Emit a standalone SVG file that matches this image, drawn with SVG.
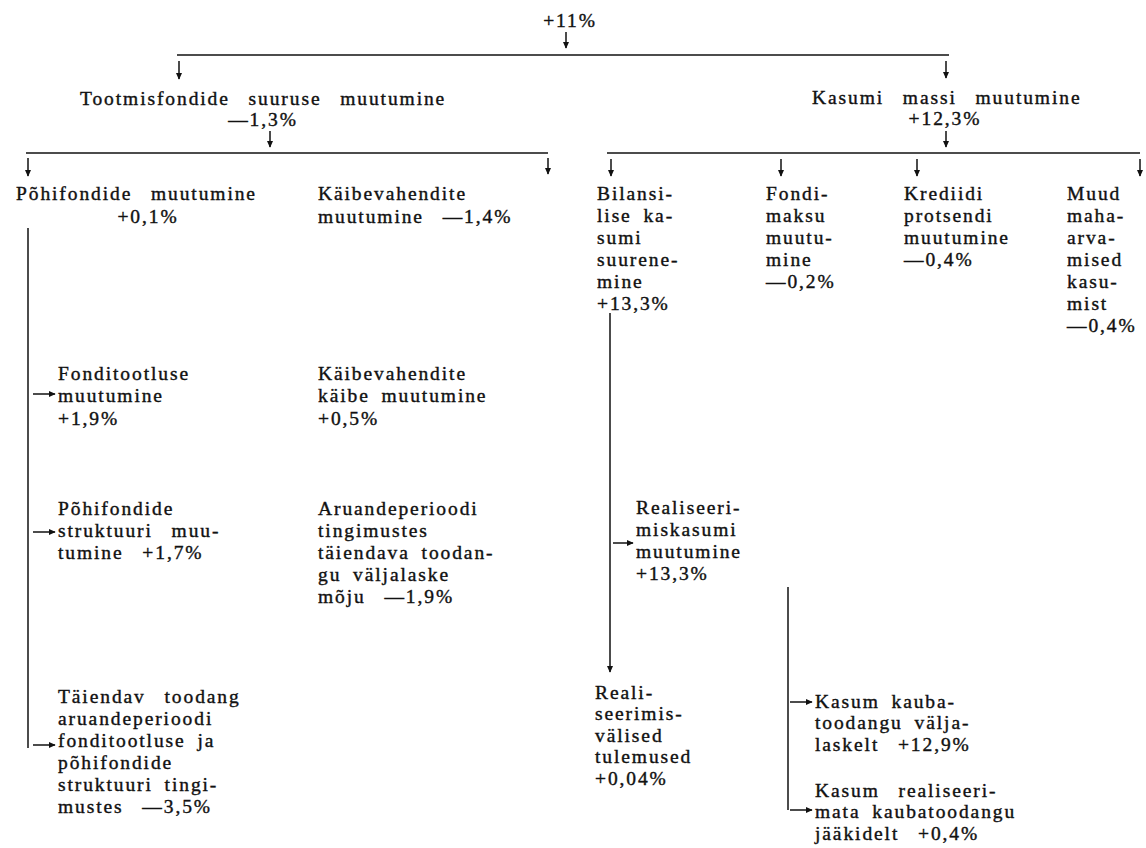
<svg xmlns="http://www.w3.org/2000/svg" width="1146" height="848" viewBox="0 0 1146 848">
<defs>
<marker id="ah" viewBox="0 0 10 10" refX="9" refY="5" markerWidth="7" markerHeight="8" markerUnits="userSpaceOnUse" orient="auto">
<path d="M0,0.5 L10,5 L0,9.5 z" fill="#111"/>
</marker>
<style>
text{font-family:"Liberation Serif","DejaVu Serif",serif;font-size:19.5px;fill:#111;stroke:#111;stroke-width:0.4;letter-spacing:1.9px;word-spacing:5px}
.w{word-spacing:12px}
.m{text-anchor:middle}
.ln{stroke:#111;stroke-width:1.5;fill:none}
.ar{stroke:#111;stroke-width:1.5;fill:none;marker-end:url(#ah)}
</style>
</defs>
<rect width="1146" height="848" fill="#fff"/>
<g id="connectors">
<line class="ar" x1="566" y1="32" x2="566" y2="48"/>
<line class="ln" x1="177" y1="55" x2="949" y2="55"/>
<line class="ar" x1="179" y1="61" x2="179" y2="79"/>
<line class="ar" x1="946" y1="61" x2="946" y2="78"/>
<line class="ar" x1="270" y1="131" x2="270" y2="147"/>
<line class="ln" x1="26" y1="153" x2="548" y2="153"/>
<line class="ar" x1="28" y1="158" x2="28" y2="176"/>
<line class="ar" x1="548" y1="158" x2="548" y2="174"/>
<line class="ln" x1="28" y1="228" x2="28" y2="748"/>
<line class="ar" x1="33" y1="394" x2="55" y2="394"/>
<line class="ar" x1="33" y1="532" x2="55" y2="532"/>
<line class="ar" x1="33" y1="745" x2="55" y2="745"/>
<line class="ar" x1="946" y1="131" x2="946" y2="147"/>
<line class="ln" x1="607" y1="153" x2="1140" y2="153"/>
<line class="ar" x1="611" y1="159" x2="611" y2="176"/>
<line class="ar" x1="781" y1="159" x2="781" y2="176"/>
<line class="ar" x1="917" y1="159" x2="917" y2="176"/>
<line class="ar" x1="1140" y1="159" x2="1140" y2="176"/>
<line class="ar" x1="610" y1="313" x2="610" y2="672"/>
<line class="ar" x1="613" y1="543" x2="633" y2="543"/>
<line class="ln" x1="788" y1="587" x2="788" y2="810"/>
<line class="ar" x1="790" y1="702" x2="812" y2="702"/>
<line class="ar" x1="790" y1="810" x2="812" y2="810"/>
</g>
<g id="n-total"><text class="m" x="570" y="27">+11%</text></g>
<g id="n-tootmis">
<text class="w" x="80" y="105">Tootmisfondide suuruse muutumine</text>
<text class="m" x="263" y="126">—1,3%</text>
</g>
<g id="n-kasum">
<text class="w" x="812" y="104">Kasumi massi muutumine</text>
<text class="m" x="945" y="125">+12,3%</text>
</g>
<g id="n-pohifondide">
<text class="w" x="16" y="200">Põhifondide muutumine</text>
<text class="m" x="148" y="223">+0,1%</text>
</g>
<g id="n-kaibevahendite">
<text x="318" y="200">Käibevahendite</text>
<text class="w" x="318" y="223">muutumine —1,4%</text>
</g>
<g id="n-fonditootlus">
<text x="58" y="380">Fonditootluse</text>
<text x="58" y="402">muutumine</text>
<text x="58" y="425">+1,9%</text>
</g>
<g id="n-kaibe">
<text x="318" y="380">Käibevahendite</text>
<text x="318" y="402">käibe muutumine</text>
<text x="318" y="425">+0,5%</text>
</g>
<g id="n-struktuur">
<text x="58" y="515">Põhifondide</text>
<text class="w" x="58" y="537">struktuuri muu-</text>
<text class="w" x="58" y="559">tumine +1,7%</text>
</g>
<g id="n-aruande">
<text x="318" y="515">Aruandeperioodi</text>
<text x="318" y="537">tingimustes</text>
<text x="318" y="559">täiendava toodan-</text>
<text x="318" y="581">gu väljalaske</text>
<text class="w" x="318" y="603">mõju —1,9%</text>
</g>
<g id="n-taiendav">
<text class="w" x="58" y="703">Täiendav toodang</text>
<text x="58" y="725">aruandeperioodi</text>
<text x="58" y="747">fonditootluse ja</text>
<text x="58" y="769">põhifondide</text>
<text x="58" y="791">struktuuri tingi-</text>
<text class="w" x="58" y="813">mustes —3,5%</text>
</g>
<g id="n-bilansi">
<text x="597" y="200">Bilansi-</text>
<text x="597" y="222">lise ka-</text>
<text x="597" y="244">sumi</text>
<text x="597" y="266">suurene-</text>
<text x="597" y="288">mine</text>
<text x="597" y="310">+13,3%</text>
</g>
<g id="n-fondimaksu">
<text x="766" y="200">Fondi-</text>
<text x="766" y="222">maksu</text>
<text x="766" y="244">muutu-</text>
<text x="766" y="266">mine</text>
<text x="766" y="288">—0,2%</text>
</g>
<g id="n-krediidi">
<text x="904" y="200">Krediidi</text>
<text x="904" y="222">protsendi</text>
<text x="904" y="244">muutumine</text>
<text x="904" y="266">—0,4%</text>
</g>
<g id="n-muud">
<text x="1067" y="200">Muud</text>
<text x="1067" y="222">maha-</text>
<text x="1067" y="244">arva-</text>
<text x="1067" y="266">mised</text>
<text x="1067" y="288">kasu-</text>
<text x="1067" y="310">mist</text>
<text x="1067" y="332">—0,4%</text>
</g>
<g id="n-realiseerimiskasum">
<text x="636" y="514">Realiseeri-</text>
<text x="636" y="536">miskasumi</text>
<text x="636" y="558">muutumine</text>
<text x="636" y="580">+13,3%</text>
</g>
<g id="n-realiseerimisvalised">
<text x="595" y="699">Reali-</text>
<text x="595" y="720">seerimis-</text>
<text x="595" y="742">välised</text>
<text x="595" y="763">tulemused</text>
<text x="595" y="785">+0,04%</text>
</g>
<g id="n-kaubatoodang">
<text x="815" y="708">Kasum kauba-</text>
<text x="815" y="729">toodangu välja-</text>
<text class="w" x="815" y="751">laskelt +12,9%</text>
</g>
<g id="n-jaagid">
<text class="w" x="815" y="797">Kasum realiseeri-</text>
<text x="815" y="818">mata kaubatoodangu</text>
<text class="w" x="815" y="840">jääkidelt +0,4%</text>
</g>
</svg>
